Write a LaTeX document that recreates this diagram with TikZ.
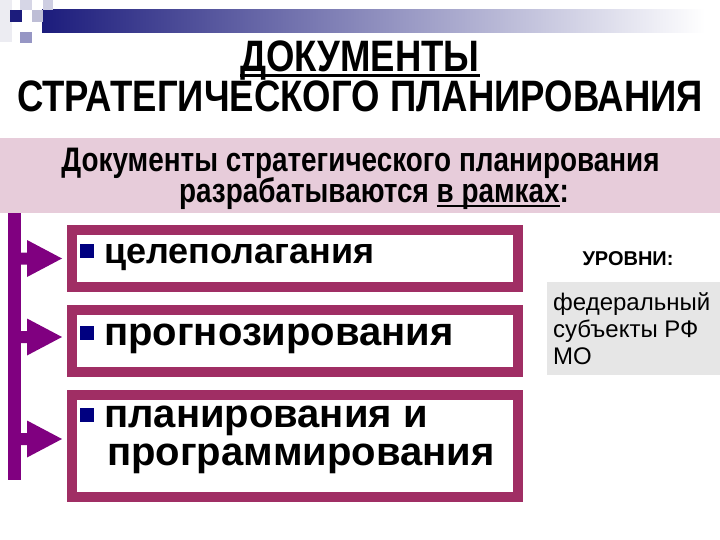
\documentclass[tikz,border=0pt]{standalone}
\usepackage{fontspec}
\setmainfont{Liberation Sans}
\newfontfamily\narrowfont[FakeStretch=0.82]{Liberation Sans}
\newfontfamily\titlefont[FakeStretch=0.83]{Liberation Sans}
\usetikzlibrary{calc}
\definecolor{navyb}{RGB}{28,28,124}
\definecolor{barpurple}{RGB}{128,0,128}
\definecolor{boxmaroon}{RGB}{160,46,100}
\definecolor{bandpink}{RGB}{231,204,218}
\definecolor{levgray}{RGB}{230,230,230}
\definecolor{bulletnavy}{RGB}{0,0,128}
\newcommand{\myul}[1]{\setbox0\hbox{#1}\rlap{\rule[-0.11em]{\wd0}{0.065em}}\box0}
\newcommand{\bul}{\textcolor{bulletnavy}{\raisebox{5pt}{\rule{14pt}{14pt}}}\hspace{10pt}}
\begin{document}
\begin{tikzpicture}[x=1pt,y=-1pt,
  framebox/.style={draw=boxmaroon, line width=10pt, fill=white, minimum width=446pt, inner sep=0pt},
  boxtext/.style={font=\bfseries\fontsize{40}{42}\selectfont, inner sep=0pt, anchor=base west},
  titletext/.style={font=\titlefont\bfseries\fontsize{44}{48}\selectfont, inner sep=0pt, anchor=base},
  headtext/.style={font=\narrowfont\bfseries\fontsize{34}{36}\selectfont, inner sep=0pt, anchor=base},
  levtext/.style={font=\fontsize{24}{27}\selectfont, inner sep=0pt, anchor=base west},
  arrowfill/.style={fill=barpurple},
  deco/.style={inner sep=0pt, anchor=north west}]
\useasboundingbox (0,0) rectangle (720,540);
% top decoration
\fill[color={rgb,255:red,236;green,236;blue,242}] (0,0) rectangle (12,42);
\shade[left color=navyb, right color=white] (42,10) rectangle (705,33);
\fill[color={rgb,255:red,214;green,214;blue,230}] (20,0) rectangle (32,10);
\fill[color={rgb,255:red,190;green,190;blue,214}] (32,10) rectangle (43,22);
\fill[color={rgb,255:red,206;green,206;blue,226}] (43,0) rectangle (53,10);
\fill[color={rgb,255:red,150;green,150;blue,196}] (20,32) rectangle (32,43);
\fill[navyb] (10,10) rectangle (22,22);
% title
\node[titletext] (tt1) at (360,72) {\myul{ДОКУМЕНТЫ}};
\node[titletext] (tt2) at (360,112) {СТРАТЕГИЧЕСКОГО ПЛАНИРОВАНИЯ};
% pink band
\node[fill=bandpink, minimum width=720pt, minimum height=75pt, inner sep=0pt] (band) at (360,175.5) {};
\node[headtext] (h1) at (360.5,172) {Документы стратегического планирования};
\node[headtext] (h2) at (374,203) {разрабатываются \myul{в рамках}:};
% vertical bar
\node[fill=barpurple, minimum width=13pt, minimum height=267pt, inner sep=0pt] (bar) at (14.5,346.5) {};
% boxes
\node[framebox, minimum height=57pt] (b1) at (295,258.5) {};
\node[framebox, minimum height=62pt] (b2) at (295,341) {};
\node[framebox, minimum height=102pt] (b3) at (295,446) {};
\node[boxtext, font=\bfseries\fontsize{36}{38}\selectfont] (t1) at (80,263) {\bul целеполагания};
\node[boxtext] (t2) at (80,345) {\bul прогнозирования};
\node[boxtext] (t3) at (80,427) {\bul планирования и};
\node[boxtext] (t3b) at (107,465) {программирования};
% arrows
\foreach \b/\dy in {b1/0,b2/-4,b3/-7}{
  \fill[arrowfill] ($(\b.west)+(-5,\dy)$) -- ++(-35,-18.5) -- ++(0,12.5) -- ++(-7,0) -- ++(0,12) -- ++(7,0) -- ++(0,12.5) -- cycle;
}
% levels
\node[font=\bfseries\fontsize{20}{22}\selectfont, inner sep=0pt, anchor=base] (lvl) at (628,265) {УРОВНИ:};
\node[fill=levgray, minimum width=173pt, minimum height=93pt, inner sep=0pt, anchor=north west] (lg) at (547,282) {};
\node[levtext] (l1) at (553,310) {федеральный};
\node[levtext] (l2) at (553,337) {субъекты РФ};
\node[levtext] (l3) at (553,364) {МО};
\end{tikzpicture}
\end{document}
